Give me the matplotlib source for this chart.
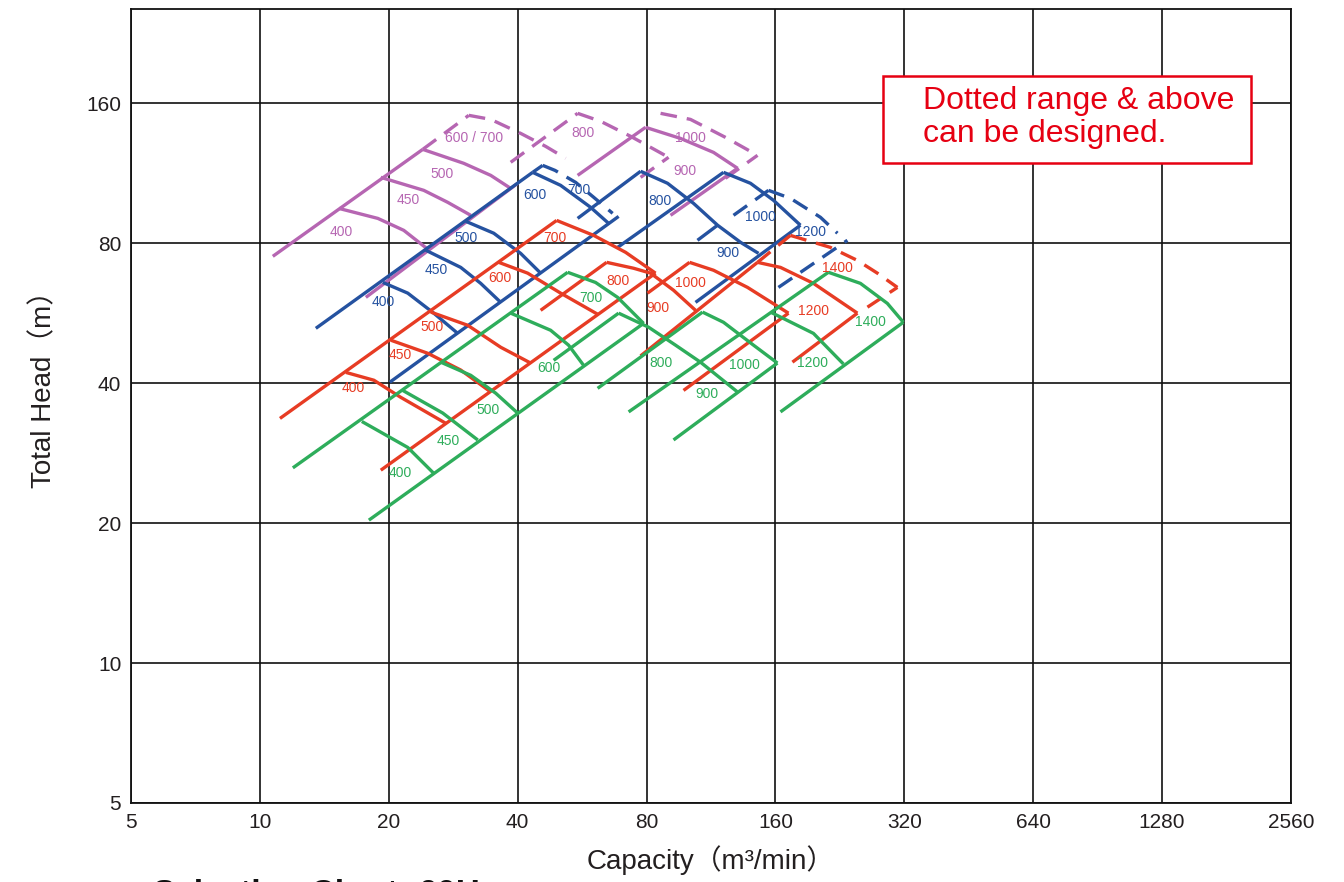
import matplotlib
matplotlib.use("Agg")
import matplotlib.pyplot as plt
from matplotlib.patches import Rectangle

# ---------------- data (Q in m3/min, H in m) ----------------
x_ticks = [5, 10, 20, 40, 80, 160, 320, 640, 1280, 2560]
y_ticks = [5, 10, 20, 40, 80, 160]

# GREEN group
g_b1_left_q = [11.94, 52.34];  g_b1_left_h = [26.3, 69.3]
g_b1_right_q = [17.97, 78.74]; g_b1_right_h = [20.3, 53.8]
g400_q = [17.30, 22.15, 25.47];        g400_h = [33.1, 29.1, 25.6]
g450_q = [21.56, 26.74, 32.27];        g450_h = [38.6, 34.5, 30.2]
g500_q = [26.45, 31.08, 35.55, 40.0];  g500_h = [44.4, 41.6, 38.07, 34.5]
g600_q = [38.53, 47.76, 52.6, 57.03];  g600_h = [56.6, 52.0, 48.3, 43.7]
g700_q = [52.34, 60.8, 68.47, 78.74];  g700_h = [69.3, 65.9, 61.2, 53.8]
g800_left_q = [48.54, 68.84];          g800_left_h = [44.8, 56.6]
g800_q = [68.84, 80.86, 93.49, 106.9, 130.5]; g800_h = [56.6, 52.8, 48.3, 44.4, 38.3]
g_b3_left_q = [61.49, 108.1];  g_b3_left_h = [39.0, 56.9]
g_b3_right_q = [92.49, 161.7]; g_b3_right_h = [30.2, 44.2]
g1000_q = [108.1, 121.0, 142.2, 161.7]; g1000_h = [56.9, 54.1, 48.3, 44.2]
g_b4_left_q = [72.65, 212.7];  g_b4_left_h = [34.7, 69.3]
g_b4_right_q = [164.4, 318.3]; g_b4_right_h = [34.7, 54.1]
g1400_q = [212.7, 252.7, 292.1, 318.3]; g1400_h = [69.3, 65.6, 59.4, 54.1]
g1200_q = [155.8, 196.3, 230.6];        g1200_h = [56.9, 51.2, 44.0]

# RED group
r_b1_left_q = [11.14, 49.33];  r_b1_left_h = [33.6, 89.6]
r_b1_right_q = [19.16, 83.96]; r_b1_right_h = [26.0, 69.0]
r400_q = [15.88, 18.46, 21.33, 27.17]; r400_h = [42.2, 40.6, 37.3, 32.8]
r450_q = [20.22, 24.66, 29.45, 34.61]; r450_h = [49.5, 46.4, 42.7, 38.3]
r500_q = [25.07, 30.58, 36.52, 42.90]; r500_h = [56.9, 53.3, 47.8, 44.2]
r600_q = [36.13, 42.21, 50.40, 61.49]; r600_h = [72.8, 69.0, 62.5, 56.3]
r700_q = [49.33, 60.19, 71.48, 83.96]; r700_h = [89.6, 83.2, 76.5, 69.0]
r800_left_q = [45.26, 64.54];  r800_left_h = [57.4, 72.8]
r800_q = [64.54, 74.62, 81.74, 92.49, 104.1]; r800_h = [72.8, 70.7, 69.0, 63.4, 57.4]
r1000_left_q = [80.43, 100.8]; r1000_left_h = [62.5, 72.8]
r1000_q = [100.8, 114.7, 137.7, 171.6]; r1000_h = [72.8, 70.0, 64.3, 56.6]
r_b3_right_q = [97.60, 171.6]; r_b3_right_h = [38.6, 56.6]
r1200_left_q = [77.48, 145.3]; r1200_left_h = [45.8, 72.8]
r1200_q = [145.3, 164.4, 196.3, 248.6]; r1200_h = [72.8, 71.0, 65.6, 56.6]
r1200_right_q = [175.3, 248.6]; r1200_right_h = [44.4, 56.6]
r1400d_left_q = [145.3, 173.4]; r1400d_left_h = [72.8, 83.2]
r1400d_q = [173.4, 215.0, 248.6, 276.8, 308.3]; r1400d_h = [83.2, 78.4, 73.5, 69.0, 64.3]
r1400d_right_q = [262.4, 308.3]; r1400d_right_h = [58.3, 64.3]

# BLUE group
b_b1_left_q = [13.51, 43.36];  b_b1_left_h = [52.5, 113.7]
b_b1_leftd_q = [43.36, 45.75]; b_b1_leftd_h = [113.7, 117.7]
b_b1_right_q = [20.11, 68.84]; b_b1_right_h = [40.2, 91.4]
b400_q = [19.37, 22.15, 25.47, 28.98]; b400_h = [65.9, 62.5, 56.6, 51.2]
b450_q = [24.40, 29.45, 32.79, 36.52]; b450_h = [77.3, 71.0, 65.6, 59.7]
b500_q = [30.26, 35.17, 40.65, 45.26]; b500_h = [89.2, 84.1, 76.1, 69.0]
b600_q = [43.36, 50.40, 59.22, 65.24]; b600_h = [113.7, 106.6, 95.6, 88.3]
b700d_q = [45.75, 48.9, 54.63, 60.19, 66.66]; b700d_h = [117.7, 114.8, 108.2, 100.5, 92.8]
b_b2_left_q = [55.22, 77.48];  b_b2_left_h = [90.5, 114.3]
b800_q = [77.48, 89.56, 103.0, 117.2, 132.6, 146.1]; b800_h = [114.3, 107.7, 97.5, 87.5, 80.4, 76.1]
b_b2_right_q = [105.2, 117.2]; b_b2_right_h = [81.2, 87.5]
b_b3_left_q = [68.47, 121.0];  b_b3_left_h = [78.4, 113.7]
b_b3_right_q = [104.1, 183.0]; b_b3_right_h = [59.7, 87.5]
b1000_q = [121.0, 139.9, 158.3, 183.0]; b1000_h = [113.7, 107.7, 99.0, 87.5]
b1200d_left_q = [127.7, 154.1]; b1200d_left_h = [91.9, 104.0]
b1200d_q = [154.1, 173.4, 203.8, 223.3]; b1200d_h = [104.0, 99.97, 91.0, 84.1]
b1200d_right_q = [162.6, 235.6]; b1200d_right_h = [64.3, 81.2]

# PURPLE group
p_b1_left_q = [10.72, 24.01];  p_b1_left_h = [75.0, 127.4]
p_b1_leftd_q = [24.01, 30.75]; p_b1_leftd_h = [127.4, 150.8]
p_b1_right_q = [17.68, 40.0];  p_b1_right_h = [61.2, 107.7]
p400_q = [15.29, 18.86, 21.68, 24.53]; p400_h = [95.1, 90.5, 85.3, 78.0]
p450_q = [19.16, 24.14, 27.46, 31.08]; p450_h = [110.9, 104.0, 98.0, 91.9]
p500_q = [24.01, 29.93, 34.61, 38.53]; p500_h = [127.4, 118.9, 112.0, 105.0]
p700d_q = [30.75, 34.61, 40.65, 46.50, 51.78]; p700d_h = [150.8, 147.8, 137.9, 129.3, 121.9]
p800d_left_q = [38.53, 55.22]; p800d_left_h = [119.5, 152.3]
p800d_q = [55.22, 62.49, 73.44, 90.05]; p800d_h = [152.3, 146.4, 135.9, 122.5]
p800d_right_q = [77.48, 90.05]; p800d_right_h = [110.9, 122.5]
p1000_left_q = [55.22, 79.57]; p1000_left_h = [112.0, 142.1]
p1000_q = [79.57, 96.04, 114.7, 130.5]; p1000_h = [142.1, 134.5, 125.5, 116.0]
p900_right_q = [91.01, 130.5]; p900_right_h = [91.9, 116.0]
p1000d_q = [86.26, 101.3, 122.3, 145.3]; p1000d_h = [152.3, 147.8, 135.2, 123.7]
p1000d_right_q = [122.3, 145.3]; p1000d_right_h = [110.4, 123.7]

# size labels
g_lab = ['400', '450', '500', '600', '700', '800', '900', '1000', '1200', '1400']
g_lab_q = [21.33, 27.6, 34.05, 47.3, 59.22, 86.26, 110.4, 135.1, 195.0, 266.6]
g_lab_h = [25.6, 30.0, 35.0, 43.2, 60.9, 44.2, 37.9, 43.7, 44.2, 54.1]
r_lab = ['400', '450', '500', '600', '700', '800', '900', '1000', '1200', '1400']
r_lab_q = [16.49, 21.33, 25.2, 36.3, 48.9, 68.47, 85.1, 101.3, 196.3, 223.3]
r_lab_h = [39.0, 46.0, 52.9, 67.3, 82.0, 66.5, 58.0, 65.6, 57.1, 70.7]
b_lab = ['400', '450', '500', '600', '700', '800', '900', '1000', '1200']
b_lab_q = [19.37, 25.8, 30.26, 43.9, 55.5, 85.8, 123.6, 147.4, 193.1]
b_lab_h = [59.7, 70.0, 82.0, 101.5, 104.0, 98.5, 76.1, 91.0, 84.5]
p_lab = ['400', '450', '500', '600 / 700', '800', '900', '1000']
p_lab_q = [15.46, 22.15, 26.6, 31.58, 56.7, 98.1, 101.3]
p_lab_h = [84.5, 99.0, 112.6, 134.5, 137.9, 114.3, 134.5]

# ---------------- styling ----------------
GREEN = '#2EAD5B'
RED = '#E73C24'
BLUE = '#2552A0'
PURPLE = '#B666B2'
LW = 2.4
DASH = (0, (5, 3))

plt.rcParams['font.family'] = ['Liberation Sans', 'Noto Sans CJK JP', 'DejaVu Sans']

fig = plt.figure(figsize=(13.44, 8.82), dpi=100)
ax = fig.add_axes([131 / 1344, 79 / 882, 1160 / 1344, 794.5 / 882])
ax.set_xscale('log', base=2)
ax.set_yscale('log', base=2)
ax.set_xlim(5, 2560)
ax.set_ylim(5, 256)
ax.set_xticks(x_ticks)
ax.set_xticklabels([str(v) for v in x_ticks])
ax.set_yticks(y_ticks)
ax.set_yticklabels([str(v) for v in y_ticks])
ax.minorticks_off()
ax.tick_params(length=0, labelsize=15, colors='#231F20', pad=7)
ax.grid(True, color='#111111', linewidth=1.2)
for s in ax.spines.values():
    s.set_color('#111111')
    s.set_linewidth(1.3)

solid = {
    GREEN: [(g_b1_left_q, g_b1_left_h), (g_b1_right_q, g_b1_right_h), (g400_q, g400_h),
            (g450_q, g450_h), (g500_q, g500_h), (g600_q, g600_h), (g700_q, g700_h),
            (g800_left_q, g800_left_h), (g800_q, g800_h), (g_b3_left_q, g_b3_left_h),
            (g_b3_right_q, g_b3_right_h), (g1000_q, g1000_h), (g_b4_left_q, g_b4_left_h),
            (g_b4_right_q, g_b4_right_h), (g1400_q, g1400_h), (g1200_q, g1200_h)],
    RED: [(r_b1_left_q, r_b1_left_h), (r_b1_right_q, r_b1_right_h), (r400_q, r400_h),
          (r450_q, r450_h), (r500_q, r500_h), (r600_q, r600_h), (r700_q, r700_h),
          (r800_left_q, r800_left_h), (r800_q, r800_h), (r1000_left_q, r1000_left_h),
          (r1000_q, r1000_h), (r_b3_right_q, r_b3_right_h), (r1200_left_q, r1200_left_h),
          (r1200_q, r1200_h), (r1200_right_q, r1200_right_h)],
    BLUE: [(b_b1_left_q, b_b1_left_h), (b_b1_right_q, b_b1_right_h), (b400_q, b400_h),
           (b450_q, b450_h), (b500_q, b500_h), (b600_q, b600_h), (b_b2_left_q, b_b2_left_h),
           (b800_q, b800_h), (b_b2_right_q, b_b2_right_h), (b_b3_left_q, b_b3_left_h),
           (b_b3_right_q, b_b3_right_h), (b1000_q, b1000_h)],
    PURPLE: [(p_b1_left_q, p_b1_left_h), (p_b1_right_q, p_b1_right_h), (p400_q, p400_h),
             (p450_q, p450_h), (p500_q, p500_h), (p1000_left_q, p1000_left_h),
             (p1000_q, p1000_h), (p900_right_q, p900_right_h)],
}
dashed = {
    RED: [(r1400d_left_q, r1400d_left_h), (r1400d_q, r1400d_h), (r1400d_right_q, r1400d_right_h)],
    BLUE: [(b_b1_leftd_q, b_b1_leftd_h), (b700d_q, b700d_h), (b1200d_left_q, b1200d_left_h),
           (b1200d_q, b1200d_h), (b1200d_right_q, b1200d_right_h)],
    PURPLE: [(p_b1_leftd_q, p_b1_leftd_h), (p700d_q, p700d_h), (p800d_left_q, p800d_left_h),
             (p800d_q, p800d_h), (p800d_right_q, p800d_right_h), (p1000d_q, p1000d_h),
             (p1000d_right_q, p1000d_right_h)],
}
order = [PURPLE, BLUE, RED, GREEN]
for c in order:
    for q, h in dashed.get(c, []):
        ax.plot(q, h, color=c, lw=LW, linestyle=DASH, solid_capstyle='butt')
    for q, h in solid.get(c, []):
        ax.plot(q, h, color=c, lw=LW, solid_capstyle='butt')

for labs, qs, hs, c in [(g_lab, g_lab_q, g_lab_h, GREEN), (r_lab, r_lab_q, r_lab_h, RED),
                        (b_lab, b_lab_q, b_lab_h, BLUE), (p_lab, p_lab_q, p_lab_h, PURPLE)]:
    for t, q, h in zip(labs, qs, hs):
        ax.text(q, h, t, color=c, fontsize=10, ha='center', va='center')

# note box
ax.add_patch(Rectangle((0.648, 0.8055), 0.3175, 0.1095, transform=ax.transAxes,
                       facecolor='white', edgecolor='#E60012', linewidth=1.8, zorder=5))
ax.text(0.683, 0.8625, 'Dotted range & above\ncan be designed.', transform=ax.transAxes,
        color='#E60012', fontsize=23, ha='left', va='center', linespacing=1.13, zorder=6)

fig.text(711 / 1344, (882 - 860) / 882, 'Capacity（m³/min）', ha='center', va='center',
         fontsize=20, color='#231F20')
fig.text(44 / 1344, (882 - 383) / 882, 'Total Head（m）', ha='center', va='center',
         rotation=90, fontsize=20, color='#231F20')
fig.text(133 / 1344, (882 - 879) / 882, '■Selection Chart: 60Hz', ha='left', va='top',
         fontsize=24, fontweight='bold', color='#111111')

fig.savefig('out.png', dpi=100)
